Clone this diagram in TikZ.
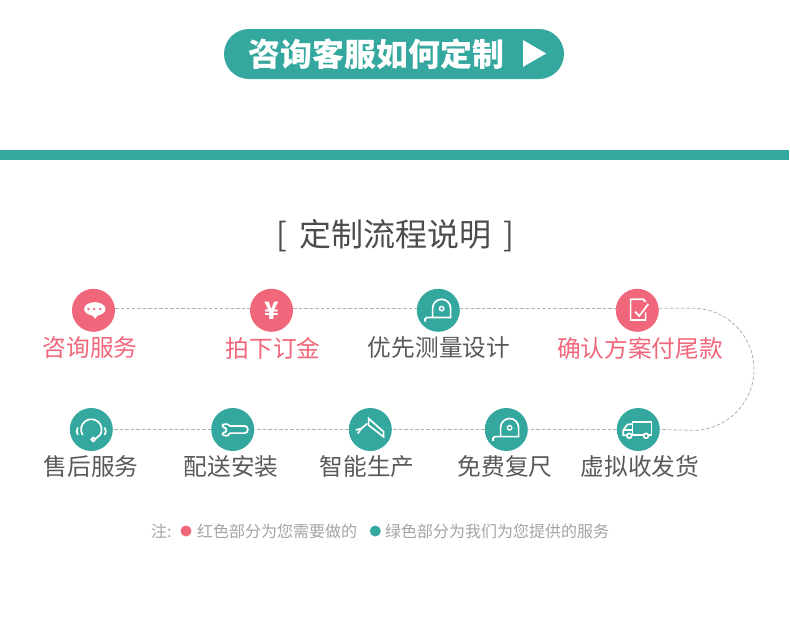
\documentclass[tikz,border=0pt]{standalone}
\usepackage{fontspec}
\setmainfont{Noto Sans CJK SC}
\usetikzlibrary{positioning,calc,shapes.geometric}
\definecolor{Teal}{HTML}{34A89E}
\definecolor{Rose}{HTML}{F0667A}
\definecolor{TextGray}{HTML}{595959}
\definecolor{NoteGray}{HTML}{A3A3A3}
\definecolor{DashGray}{HTML}{B0B0B0}
\tikzset{
  tapeicon/.pic={
    \draw[iconline] (-13.3,-11.3) -- (-13.3,-8.8) arc (180:90:1.7) -- (12.3,-7.1) -- (12.3,2) arc (0:180:9) -- (-5.7,-7.1);
    \draw[iconline, line width=1.4pt] (3.3,1.7) circle (2.2);
  }
}
\begin{document}
\begin{tikzpicture}[
    x=1pt, y=1pt,
    node distance=6pt and 135pt,
    redstep/.style={circle, fill=Rose, minimum size=43pt, inner sep=0pt, outer sep=0pt},
    greenstep/.style={circle, fill=Teal, minimum size=43pt, inner sep=0pt, outer sep=0pt},
    redlabel/.style={font=\fontsize{23.7}{26}\selectfont, text=Rose, inner sep=0pt},
    greylabel/.style={font=\fontsize{23.7}{26}\selectfont, text=TextGray, inner sep=0pt},
    notetext/.style={font=\fontsize{16}{18}\selectfont, text=NoteGray, inner sep=0pt, anchor=west},
    flow/.style={draw=DashGray, line width=0.8pt, dash pattern=on 3.5pt off 2pt},
    iconline/.style={draw=white, line width=1.7pt},
    notedot/.style={circle, minimum size=11pt, inner sep=0pt}
  ]
    \useasboundingbox (0,0) rectangle (790,-616);

    % Header
    \node (button) [fill=Teal, rounded corners=25pt, minimum width=340pt, minimum height=50pt, inner sep=0pt] at (394,-54) {};
    \node (buttontext) [font=\fontsize{31.9}{34}\selectfont\bfseries, text=white, inner sep=0pt] at (376.3,-54) {咨询客服如何定制};
    \node (buttonplay) [fill=white, isosceles triangle, isosceles triangle apex angle=60, minimum height=23pt, inner sep=0pt, anchor=lower side] at (523,-53.5) {};
    \node (band) [fill=Teal, minimum width=789pt, minimum height=10pt, inner sep=0pt] at (394.5,-155) {};
    \node (heading) [font=\fontsize{32}{34}\selectfont, text=TextGray!85!black, inner sep=0pt] at (395,-236) {[\hspace{12pt}定制流程说明\hspace{12pt}]};

    % Upper row
    \node (consult) [redstep] at (93.5,-310.3) {};
    \node (deposit) [redstep, right=135pt of consult] {};
    \node (measure) [greenstep, right=123.8pt of deposit] {};
    \node (confirm) [redstep, right=156pt of measure] {};
    \node (consultl) [redlabel, below=5pt of consult, xshift=-3.5pt] {咨询服务};
    \node (depositl) [redlabel, below=5pt of deposit, xshift=1.5pt] {拍下订金};
    \node (measurel) [greylabel, below=5pt of measure, xshift=0.7pt] {优先测量设计};
    \node (confirml) [redlabel, below=5pt of confirm, xshift=2.7pt] {确认方案付尾款};

    % Lower row
    \node (truck) [greenstep] at (638.3,-429.5) {};
    \node (remeasure) [greenstep, left=89pt of truck] {};
    \node (produce) [greenstep, left=93pt of remeasure] {};
    \node (install) [greenstep, left=94.6pt of produce] {};
    \node (after) [greenstep, left=98.4pt of install] {};
    \node (truckl) [greylabel, below=4.6pt of truck, xshift=1.7pt] {虚拟收发货};
    \node (remeasurel) [greylabel, below=4.6pt of remeasure, xshift=-1.3pt] {免费复尺};
    \node (producel) [greylabel, below=4.6pt of produce, xshift=-3.3pt] {智能生产};
    \node (installl) [greylabel, below=4.6pt of install, xshift=-1.7pt] {配送安装};
    \node (afterl) [greylabel, below=4.6pt of after, xshift=-0.3pt] {售后服务};

    % Connectors
    \draw [flow] ([yshift=2pt]consult.east) -- ([yshift=2pt]deposit.west);
    \draw [flow] ([yshift=2pt]deposit.east) -- ([yshift=2pt]measure.west);
    \draw [flow] ([yshift=2pt]measure.east) -- ([yshift=2pt]confirm.west);
    \draw [flow] ([yshift=2pt]confirm.east) -- (693,-308.3) arc (90:-90:61) -- (truck.east);
    \draw [flow] (truck.west) -- (remeasure.east);
    \draw [flow] (remeasure.west) -- (produce.east);
    \draw [flow] (produce.west) -- (install.east);
    \draw [flow] (install.west) -- (after.east);

    % Icons
    \fill [white] ($(consult)+(1.3,1.3)$) ellipse (10.7 and 6.8);
    \fill [white] ($(consult)+(-2,-4)$) -- ($(consult)+(1.7,-8.3)$) -- ($(consult)+(5,-4)$) -- cycle;
    \foreach \dotx in {-5,0.7,6.7} \fill [Rose] ($(consult)+(\dotx,1.3)$) circle (1.3);
    \node (yen) [font=\fontsize{24}{26}\selectfont\bfseries, text=white, inner sep=0pt] at ($(deposit)+(0,-0.7)$) {¥};
    \pic at (measure) {tapeicon};
    \pic at (remeasure) {tapeicon};
    \draw [iconline] ($(confirm)+(8.3,-2)$) -- ($(confirm)+(8.3,-9.7)$) -- ($(confirm)+(-6.7,-9.7)$) -- ($(confirm)+(-6.7,11)$) -- ($(confirm)+(6,11)$) -- ($(confirm)+(8.3,8.5)$);
    \draw [iconline] ($(confirm)+(-2.3,-1.3)$) -- ($(confirm)+(2,-5.7)$) -- ($(confirm)+(11,6.3)$);
    \draw [iconline] ($(after)+(-8.6,-5.6)$) arc (213:-33:10.3) -- ($(after)+(3.8,-9.5)$);
    \draw [iconline] ($(after)+(2,-10)$) circle (1.9);
    \draw [iconline] ($(after)+(-13.5,2)$) arc (150:210:7.5);
    \draw [iconline] ($(after)+(13.5,2)$) arc (30:-30:7.5);
    \draw [iconline, rounded corners=3pt] ($(install)+(-3,3.6)$) -- ($(install)+(15,3.6)$) -- ($(install)+(15,-3.6)$) -- ($(install)+(-3,-3.6)$);
    \draw [iconline, rounded corners=1pt] ($(install)+(-3,3.6)$) -- ($(install)+(-5,5.5)$) -- ($(install)+(-10.5,5)$) -- ($(install)+(-9.5,2)$) -- ($(install)+(-6.5,1.5)$) -- ($(install)+(-6.5,-2.5)$) -- ($(install)+(-9.5,-3)$) -- ($(install)+(-10.5,-5.5)$) -- ($(install)+(-5,-6.5)$) -- ($(install)+(-3,-3.6)$);
    \draw [iconline] ($(produce)+(-1.7,4.3)$) -- ($(produce)+(-1.7,11)$) -- ($(produce)+(13.3,-2.3)$) -- ($(produce)+(13.3,-7.3)$) -- cycle;
    \draw [iconline] ($(produce)+(-14.5,-0.5)$) -- ($(produce)+(-9,1)$) -- ($(produce)+(-3,6)$);
    \draw [iconline] ($(produce)+(-12.5,-4)$) -- ($(produce)+(-9,1)$);
    \draw [iconline] ($(truck)+(-5.7,-5.7)$) -- ($(truck)+(-5.7,7.7)$) -- ($(truck)+(13.3,7.7)$) -- ($(truck)+(13.3,-5.7)$) -- ($(truck)+(10.3,-5.7)$);
    \draw [iconline] ($(truck)+(5,-5.7)$) -- ($(truck)+(-6.3,-5.7)$);
    \draw [iconline] ($(truck)+(-5.7,5.5)$) -- ($(truck)+(-11,5)$) -- ($(truck)+(-15,-0.7)$) -- ($(truck)+(-15,-5.7)$) -- ($(truck)+(-11.7,-5.7)$);
    \draw [iconline] ($(truck)+(-15,-0.7)$) -- ($(truck)+(-5.7,-0.7)$);
    \draw [iconline] ($(truck)+(-9,-6.3)$) circle (2.4);
    \draw [iconline] ($(truck)+(7.7,-6.3)$) circle (2.4);

    % Note
    \node (notehead) [notetext] at (151,-531) {注:};
    \node (reddot) [notedot, fill=Rose] at (186,-531) {};
    \node (rednote) [notetext] at (197,-531) {红色部分为您需要做的};
    \node (greendot) [notedot, fill=Teal] at (375.3,-531) {};
    \node (greennote) [notetext] at (385,-531) {绿色部分为我们为您提供的服务};
  \end{tikzpicture}
\end{document}
